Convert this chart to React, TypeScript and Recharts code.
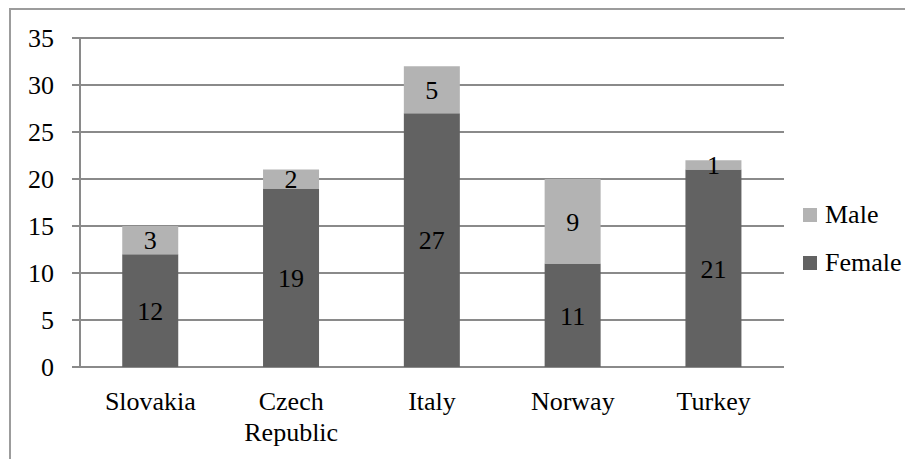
import React from "react";
import {
  Bar,
  BarChart,
  CartesianGrid,
  LabelList,
  Legend,
  XAxis,
  YAxis,
} from "recharts";

const countries = ["Slovakia", "Czech Republic", "Italy", "Norway", "Turkey"];
const female = [12, 19, 27, 11, 21];
const male = [3, 2, 5, 9, 1];
const yTicks = [0, 5, 10, 15, 20, 25, 30, 35];
const edgeTicks = [0, 1, 2, 3, 4, 5];

const COLORS = {
  female: "#626262",
  male: "#b3b3b3",
  grid: "#8a8a8a",
  border: "#9c9c9c",
};

const FONT = "'Liberation Serif', serif";
const FONT_SIZE = 26;

const data = countries.map((name, i) => ({
  name,
  female: female[i],
  male: male[i],
}));

// category labels wrap onto one line per word, like the original
function CountryTick(props: any) {
  const { x, y, payload } = props;
  const words = String(payload.value).split(" ");
  return (
    <text
      x={x}
      y={y}
      textAnchor="middle"
      fill="#000"
      fontFamily={FONT}
      fontSize={FONT_SIZE}
    >
      {words.map((w, i) => (
        <tspan key={w} x={x} dy={i === 0 ? "0.71em" : 31}>
          {w}
        </tspan>
      ))}
    </text>
  );
}

function SideLegend() {
  const items = [
    { label: "Male", color: COLORS.male },
    { label: "Female", color: COLORS.female },
  ];
  return (
    <div style={{ fontFamily: FONT, fontSize: FONT_SIZE, lineHeight: 1 }}>
      {items.map((it) => (
        <div
          key={it.label}
          style={{ display: "flex", alignItems: "center", height: 48 }}
        >
          <span
            style={{
              width: 14,
              height: 14,
              background: it.color,
              marginRight: 8,
              display: "inline-block",
              flexShrink: 0,
            }}
          />
          <span style={{ color: "#000", whiteSpace: "nowrap" }}>
            {it.label}
          </span>
        </div>
      ))}
    </div>
  );
}

export default function App() {
  return (
    <div
      style={{
        position: "absolute",
        left: 8,
        top: 8,
        width: 897,
        height: 451,
        overflow: "hidden",
      }}
    >
      <div
        style={{
          position: "absolute",
          left: 1,
          top: 0,
          right: 0,
          bottom: 0,
          borderTop: `2px solid ${COLORS.border}`,
          borderLeft: `2px solid ${COLORS.border}`,
          pointerEvents: "none",
        }}
      />
      <BarChart
        width={897}
        height={451}
        data={data}
        barCategoryGap="30%"
        margin={{ top: 30, right: 21, left: 0, bottom: 0 }}
      >
        <CartesianGrid
          vertical={false}
          stroke={COLORS.grid}
          strokeWidth={2}
        />
        <XAxis
          xAxisId="edges"
          type="number"
          domain={[0, 5]}
          ticks={edgeTicks}
          allowDataOverflow
          height={0}
          tick={false}
          tickSize={8}
          stroke={COLORS.grid}
          strokeWidth={2}
        />
        <XAxis
          dataKey="name"
          height={92}
          axisLine={false}
          tickLine={false}
          tickSize={8}
          tickMargin={17}
          interval={0}
          tick={<CountryTick />}
        />
        <YAxis
          domain={[0, 35]}
          ticks={yTicks}
          width={72}
          tickSize={8}
          tickMargin={18}
          stroke={COLORS.grid}
          strokeWidth={2}
          tick={{ fill: "#000", fontFamily: FONT, fontSize: FONT_SIZE }}
        />
        <Legend
          layout="vertical"
          align="right"
          verticalAlign="middle"
          content={<SideLegend />}
          wrapperStyle={{ left: 795, top: 183, right: "auto", width: 100 }}
        />
        <Bar
          dataKey="female"
          stackId="a"
          fill={COLORS.female}
          isAnimationActive={false}
        >
          <LabelList
            dataKey="female"
            position="center"
            fill="#000"
            style={{ fontFamily: FONT, fontSize: FONT_SIZE }}
          />
        </Bar>
        <Bar
          dataKey="male"
          stackId="a"
          fill={COLORS.male}
          isAnimationActive={false}
        >
          <LabelList
            dataKey="male"
            position="center"
            fill="#000"
            style={{ fontFamily: FONT, fontSize: FONT_SIZE }}
          />
        </Bar>
      </BarChart>
    </div>
  );
}
